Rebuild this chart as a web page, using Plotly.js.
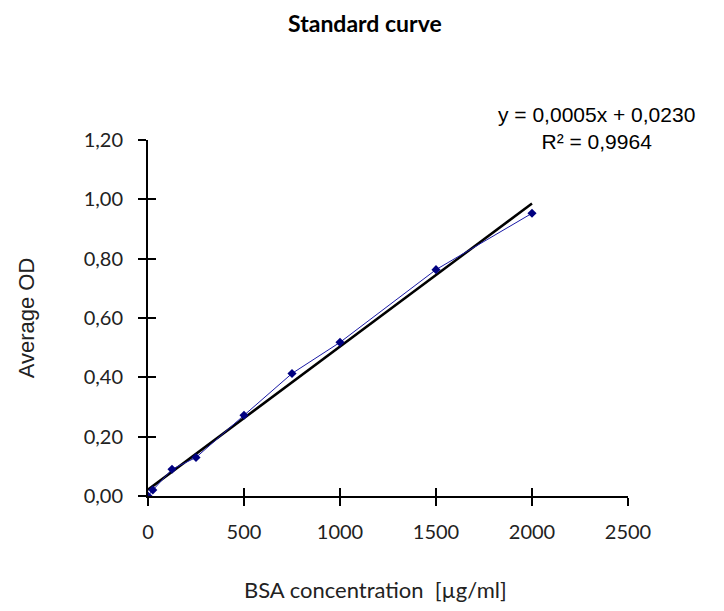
<!DOCTYPE html>
<html>
<head>
<meta charset="utf-8">
<script src="https://cdn.plot.ly/plotly-3.0.1.min.js"></script>
<style>html,body{margin:0;padding:0;background:#fff;}#chart{width:724px;height:611px;}</style>
</head>
<body>
<div id="chart"></div>
<script>
// Data
const concentration = [0, 25, 125, 250, 500, 750, 1000, 1500, 2000];
const averageOD = [0.00, 0.02, 0.09, 0.13, 0.272, 0.413, 0.518, 0.763, 0.953];
const xTicks = [0, 500, 1000, 1500, 2000, 2500];
const yTicks = [0, 0.2, 0.4, 0.6, 0.8, 1.0, 1.2];
const equationText = 'y = 0,0005x + 0,0230<br>R² = 0,9964';
const xTitle = 'BSA concentration  [µg/ml]';
const yTitle = 'Average OD';

// least-squares trendline from the data
const n = concentration.length;
const mx = concentration.reduce((a, b) => a + b, 0) / n;
const my = averageOD.reduce((a, b) => a + b, 0) / n;
let sxy = 0, sxx = 0;
for (let i = 0; i < n; i++) { sxy += (concentration[i] - mx) * (averageOD[i] - my); sxx += (concentration[i] - mx) ** 2; }
const slope = sxy / sxx, intercept = my - slope * mx;
const trendX = [concentration[0], concentration[n - 1]];
const trendY = trendX.map(x => intercept + slope * x);

const tickFont = {family: 'Lato, Open Sans, sans-serif', size: 20, color: '#222'};

const traces = [
  {x: trendX, y: trendY, mode: 'lines', line: {color: '#000', width: 2.5}, hoverinfo: 'skip', showlegend: false},
  {x: concentration, y: averageOD, mode: 'lines+markers', line: {color: '#1a1aa6', width: 1},
   marker: {symbol: 'diamond', size: 7, color: '#000080'}, showlegend: false},
  {x: concentration, y: averageOD, xaxis: 'x2', yaxis: 'y2', mode: 'markers', marker: {opacity: 0}, hoverinfo: 'skip', showlegend: false}
];

const common = {showgrid: false, zeroline: false, showline: true, linecolor: '#000', linewidth: 2, tickcolor: '#000', tickwidth: 2};

const layout = {
  width: 724, height: 611,
  margin: {l: 148, r: 96, t: 140, b: 115},
  paper_bgcolor: '#fff', plot_bgcolor: '#fff',
  separators: ', ',
  title: {text: '<b>Standard curve</b>', x: 0.504, xanchor: 'center', y: 0.96, yanchor: 'middle',
          font: {family: 'Lato, Open Sans, sans-serif', size: 23, color: '#000'}},
  xaxis: Object.assign({}, common, {range: [0, 2500], tickvals: xTicks, ticks: 'outside', ticklen: 8,
          tickfont: tickFont, automargin: false, ticklabelstandoff: 9}),
  yaxis: Object.assign({}, common, {range: [0, 1.2], tickvals: yTicks, tickformat: '.2f', ticks: 'outside', ticklen: 8,
          tickfont: tickFont, automargin: false, ticklabelstandoff: 11,
          title: {text: yTitle, standoff: 43, font: {family: 'Liberation Sans, Arial, sans-serif', size: 22, color: '#222'}}}),
  xaxis2: Object.assign({}, common, {overlaying: 'x', range: [0, 2500], tickvals: xTicks, ticks: 'inside', ticklen: 8, showticklabels: false}),
  yaxis2: Object.assign({}, common, {overlaying: 'y', range: [0, 1.2], tickvals: yTicks, ticks: 'inside', ticklen: 8, showticklabels: false}),
  annotations: [
    {text: equationText, xref: 'paper', yref: 'paper', x: 0.935, y: 1.035, xanchor: 'center', yanchor: 'middle',
     showarrow: false, align: 'center', font: {family: 'Liberation Sans, Arial, sans-serif', size: 21, color: '#000'}},
    {text: xTitle, xref: 'paper', yref: 'paper', x: 0.473, y: -0.264, xanchor: 'center', yanchor: 'middle',
     showarrow: false, font: {family: 'Lato, Open Sans, sans-serif', size: 22, color: '#222'}}
  ]
};

Plotly.newPlot('chart', traces, layout, {displayModeBar: false, staticPlot: true});
</script>
</body>
</html>
